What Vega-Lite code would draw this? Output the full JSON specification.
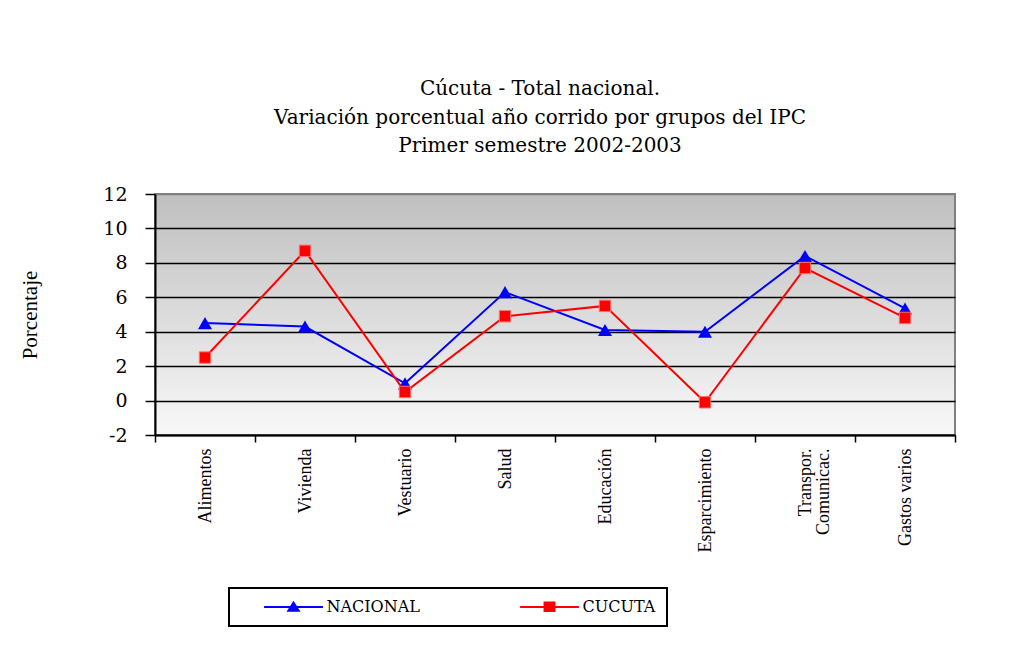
{
  "$schema": "https://vega.github.io/schema/vega-lite/v6.json",
  "width": 800,
  "height": 241,
  "autosize": {"type": "none"},
  "padding": {"left": 155, "top": 194, "right": 63, "bottom": 220},
  "background": "white",
  "title": {
    "text": ["Cúcuta - Total nacional.", "Variación porcentual año corrido por grupos del  IPC", "Primer semestre 2002-2003"],
    "anchor": "middle",
    "font": "DejaVu Serif",
    "fontSize": 20,
    "fontWeight": "normal",
    "lineHeight": 28.5,
    "offset": 29,
    "dx": -15,
    "color": "black"
  },
  "config": {
    "font": "Liberation Serif",
    "legend": {"strokeWidth": 2},
    "view": {
      "stroke": "#808080",
      "strokeWidth": 2,
      "fill": {
        "gradient": "linear",
        "x1": 0, "y1": 0, "x2": 0, "y2": 1,
        "stops": [
          {"offset": 0, "color": "#bfbfbf"},
          {"offset": 1, "color": "#f8f8f8"}
        ]
      }
    }
  },
  "data": {
    "values": [
      {"categoria": "Alimentos", "serie": "NACIONAL", "valor": 4.5},
      {"categoria": "Vivienda", "serie": "NACIONAL", "valor": 4.3},
      {"categoria": "Vestuario", "serie": "NACIONAL", "valor": 1.0},
      {"categoria": "Salud", "serie": "NACIONAL", "valor": 6.3},
      {"categoria": "Educación", "serie": "NACIONAL", "valor": 4.1},
      {"categoria": "Esparcimiento", "serie": "NACIONAL", "valor": 4.0},
      {"categoria": "Transpor. Comunicac.", "serie": "NACIONAL", "valor": 8.4},
      {"categoria": "Gastos varios", "serie": "NACIONAL", "valor": 5.35},
      {"categoria": "Alimentos", "serie": "CUCUTA", "valor": 2.5},
      {"categoria": "Vivienda", "serie": "CUCUTA", "valor": 8.7},
      {"categoria": "Vestuario", "serie": "CUCUTA", "valor": 0.5},
      {"categoria": "Salud", "serie": "CUCUTA", "valor": 4.9},
      {"categoria": "Educación", "serie": "CUCUTA", "valor": 5.5},
      {"categoria": "Esparcimiento", "serie": "CUCUTA", "valor": -0.1},
      {"categoria": "Transpor. Comunicac.", "serie": "CUCUTA", "valor": 7.7},
      {"categoria": "Gastos varios", "serie": "CUCUTA", "valor": 4.8}
    ]
  },
  "encoding": {
    "x": {
      "field": "categoria",
      "type": "nominal",
      "sort": null,
      "scale": {"type": "band", "paddingInner": 0, "paddingOuter": 0},
      "axis": {
        "title": null,
        "tickBand": "extent",
        "grid": false,
        "domainColor": "black",
        "domainWidth": 2,
        "tickColor": "black",
        "tickSize": 7,
        "tickWidth": 1.5,
        "labelAngle": 270,
        "labelAlign": "right",
        "labelBaseline": "middle",
        "labelFont": "Liberation Serif",
        "labelFontSize": 18,
        "labelColor": "black",
        "labelPadding": 6,
        "labelLineHeight": 18,
        "labelExpr": "datum.value == 'Transpor. Comunicac.' ? ['Transpor.', 'Comunicac.'] : datum.value"
      }
    },
    "y": {
      "field": "valor",
      "type": "quantitative",
      "scale": {"domain": [-2, 12], "nice": false, "zero": false},
      "axis": {
        "values": [-2, 0, 2, 4, 6, 8, 10, 12],
        "grid": true,
        "gridColor": {"condition": {"test": "datum.value == 12", "value": "#808080"}, "value": "#000000"},
        "gridWidth": 1.5,
        "domainColor": "black",
        "domainWidth": 2,
        "tickColor": "black",
        "tickSize": 10,
        "tickWidth": 1.5,
        "labelFont": "DejaVu Serif",
        "labelFontSize": 19,
        "labelColor": "black",
        "labelPadding": 18,
        "labelExpr": "'' + datum.value",
        "title": "Porcentaje",
        "titleFont": "Liberation Serif",
        "titleFontSize": 21,
        "titleFontWeight": "normal",
        "titleColor": "black",
        "titleAngle": 270,
        "titleX": -125,
        "titleY": 120.5,
        "titleAlign": "center",
        "titleBaseline": "middle"
      }
    }
  },
  "layer": [
    {
      "transform": [{"filter": "datum.serie === 'NACIONAL'"}],
      "mark": {"type": "line", "strokeWidth": 2, "color": "#0000ff"}
    },
    {
      "transform": [{"filter": "datum.serie === 'CUCUTA'"}],
      "mark": {"type": "line", "strokeWidth": 2, "color": "#ff0000"}
    },
    {
      "transform": [{"filter": "datum.serie === 'NACIONAL'"}],
      "mark": {"type": "point", "shape": "triangle-up", "size": 196, "filled": true, "color": "#0000ff", "opacity": 1}
    },
    {
      "transform": [{"filter": "datum.serie === 'CUCUTA'"}],
      "mark": {"type": "point", "shape": "square", "size": 130, "filled": true, "fill": "#ff0000", "stroke": "#ff7070", "strokeWidth": 1, "opacity": 1}
    },
    {
      "transform": [{"filter": "false"}],
      "mark": {"type": "point", "filled": true, "opacity": 1, "strokeWidth": 0},
      "encoding": {
        "color": {
          "field": "serie",
          "type": "nominal",
          "scale": {"domain": ["NACIONAL", "CUCUTA"], "range": ["#0000ff", "#ff0000"]},
          "legend": {
            "title": null,
            "orient": "none",
            "legendX": 74,
            "legendY": 394,
            "direction": "horizontal",
            "padding": 11,
            "strokeColor": "black",
            "symbolSize": 196,
            "symbolOffset": 45.5,
            "labelOffset": 25,
            "columnPadding": 76,
            "labelFont": "DejaVu Serif",
            "labelFontSize": 16,
            "labelColor": "black",
            "symbolStrokeWidth": 0,
            "symbolOpacity": 1
          }
        },
        "shape": {
          "field": "serie",
          "type": "nominal",
          "scale": {
            "domain": ["NACIONAL", "CUCUTA"],
            "range": ["M-4.2,-0.14H4.2V0.14H-4.2ZM0,-0.9L1,0.67L-1,0.67Z", "M-4.2,-0.14H4.2V0.14H-4.2ZM-0.85,-0.8H0.85V0.7H-0.85Z"]
          },
          "legend": {
            "title": null,
            "orient": "none",
            "legendX": 74,
            "legendY": 394,
            "direction": "horizontal",
            "padding": 11,
            "strokeColor": "black",
            "symbolSize": 196,
            "symbolOffset": 45.5,
            "labelOffset": 25,
            "columnPadding": 76,
            "labelFont": "DejaVu Serif",
            "labelFontSize": 16,
            "labelColor": "black",
            "symbolStrokeWidth": 0,
            "symbolOpacity": 1
          }
        }
      }
    }
  ]
}
